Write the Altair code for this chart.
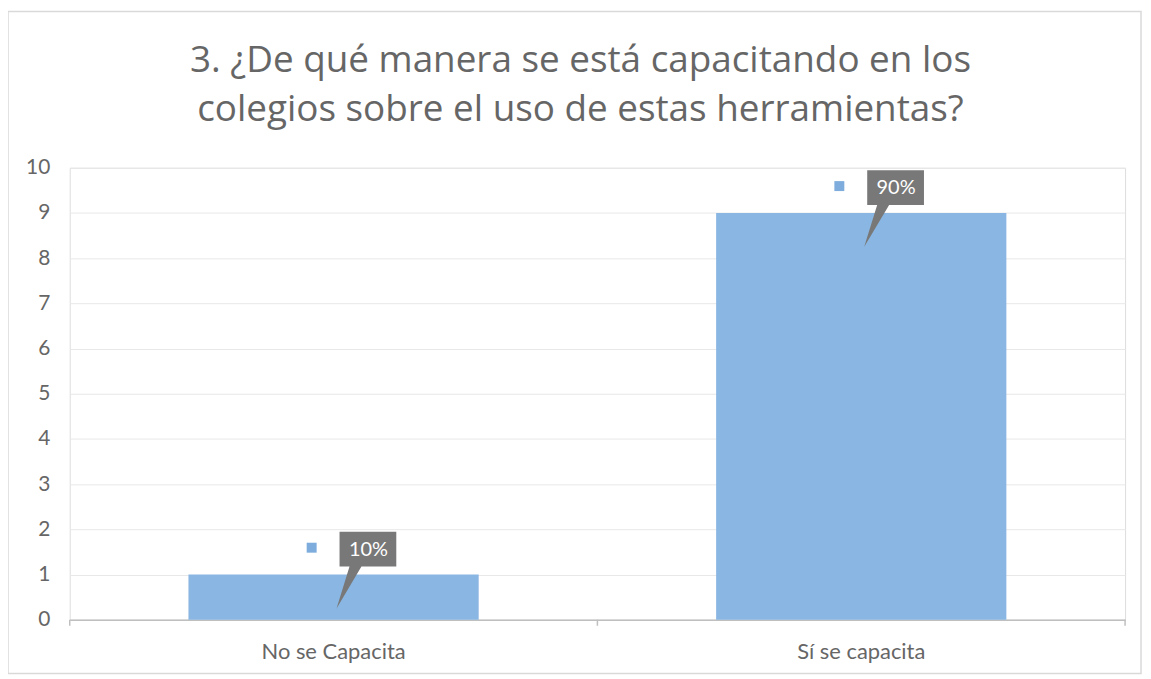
import altair as alt
import pandas as pd

categories = ["No se Capacita", "Sí se capacita"]
values = [1, 9]
pct_labels = ["10%", "90%"]

title_lines = ["3. ¿De qué manera se está capacitando en los",
               "colegios sobre el uso de estas herramientas?"]

df = pd.DataFrame({"cat": categories, "val": values, "lbl": pct_labels})

W, H = 1060, 454
BLUE = "#89b6e2"
GRAY_TXT = "#666666"

xscale = alt.Scale(domain=categories, paddingInner=0.45, paddingOuter=0.225)
yscale = alt.Scale(domain=[0, 10])

x_enc = alt.X("cat:N", scale=xscale, sort=categories,
              axis=alt.Axis(title=None, labelAngle=0, ticks=False, domain=True,
                            domainColor="#bfbfbf", domainWidth=1.5,
                            labelPadding=22, labelFontSize=22, labelColor=GRAY_TXT,
                            labelFont="Lato", grid=False))
y_enc = alt.Y("val:Q", scale=yscale,
              axis=alt.Axis(title=None, values=list(range(0, 11)), ticks=False, domain=False,
                            labelPadding=20, labelFontSize=21, labelColor=GRAY_TXT,
                            labelFont="Lato", gridColor="#e8e8e8", gridWidth=1))

bars = alt.Chart(df).mark_bar(color=BLUE).encode(x=x_enc, y=y_enc)

callout_path = ("M 0.06 -0.43 L 0.63 -0.43 L 0.63 -0.08 L 0.28 -0.08 "
                "L 0.03 0.34 L 0.16 -0.08 L 0.06 -0.08 Z")
square_path = "M -0.27 -0.32 L -0.17 -0.32 L -0.17 -0.22 L -0.27 -0.22 Z"

callout = alt.Chart(df).mark_point(shape=callout_path, size=40000, filled=True,
                                   color="#787878", opacity=1, strokeWidth=0).encode(
    x=alt.X("cat:N", scale=xscale, sort=categories),
    y=alt.Y("val:Q", scale=yscale))

square = alt.Chart(df).mark_point(shape=square_path, size=40000, filled=True,
                                  color="#7eaddd", opacity=1, strokeWidth=0).encode(
    x=alt.X("cat:N", scale=xscale, sort=categories),
    y=alt.Y("val:Q", scale=yscale))

txt = alt.Chart(df).mark_text(color="white", fontSize=20, font="Lato", dx=35, dy=-25,
                              align="center", baseline="middle").encode(
    x=alt.X("cat:N", scale=xscale, sort=categories),
    y=alt.Y("val:Q", scale=yscale),
    text="lbl:N")

ticks_df = pd.DataFrame({"t": [0, 1, 2]})
xticks = alt.Chart(ticks_df).mark_rule(color="#bfbfbf", strokeWidth=1.5).encode(
    x=alt.X("t:Q", scale=alt.Scale(domain=[0, 2]), axis=None),
    y=alt.value(H), y2=alt.value(H + 6))

border_df = pd.DataFrame({"k": [0]})
border = alt.Chart(border_df).mark_rect(fill="white", fillOpacity=0, stroke="#d9d9d9",
                                        strokeWidth=1.5).encode(
    x=alt.value(-62), x2=alt.value(1076), y=alt.value(-157), y2=alt.value(508))

title_df = pd.DataFrame({"line": title_lines, "yy": [-96, -47]})
title = alt.Chart(title_df).mark_text(fontSize=37, font="Open Sans", color=GRAY_TXT,
                                      align="center", baseline="alphabetic").encode(
    x=alt.value(513), y=alt.Y("yy:Q", scale=None), text="line:N")

main = alt.layer(bars, callout, square, txt)
chart = alt.layer(border, title, main, xticks).resolve_scale(x="independent").properties(
    width=W, height=H,
    autosize=alt.AutoSizeParams(type="none"),
    padding={"left": 62, "top": 159, "right": 18, "bottom": 56},
).configure_view(stroke=None).configure(background="white")

chart.save("out.html", embed_options={"renderer": "svg", "actions": False})
